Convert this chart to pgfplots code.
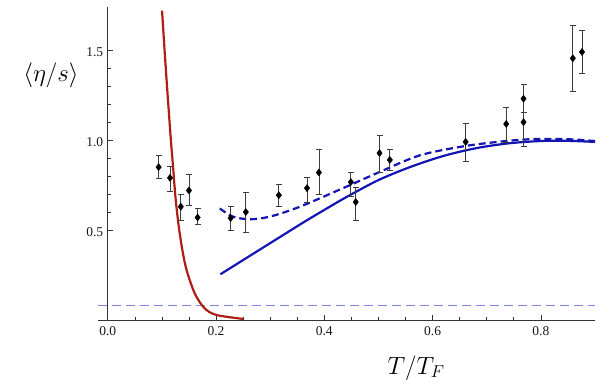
\documentclass[border=0pt]{standalone}
\usepackage{fontspec}
\setmainfont{Liberation Serif}
\usepackage{pgfplots}
\pgfplotsset{compat=1.18}
\usepackage{pgfplotstable}
\definecolor{mred}{RGB}{175,30,20}
\definecolor{mblue}{RGB}{20,20,180}
\definecolor{kss}{RGB}{130,130,225}
\definecolor{errc}{RGB}{60,60,60}
\pgfplotstableread{
x y ep em
0.094 0.850 0.067 0.060
0.115 0.790 0.066 0.073
0.135 0.630 0.070 0.074
0.150 0.720 0.090 0.080
0.166 0.570 0.050 0.040
0.227 0.567 0.063 0.067
0.255 0.600 0.110 0.110
0.316 0.694 0.061 0.064
0.368 0.733 0.062 0.077
0.390 0.820 0.130 0.120
0.449 0.767 0.053 0.077
0.458 0.656 0.084 0.100
0.502 0.928 0.100 0.108
0.521 0.890 0.060 0.060
0.661 0.990 0.104 0.110
0.736 1.090 0.090 0.100
0.768 1.230 0.080 0.075
0.768 1.100 0.055 0.133
0.859 1.455 0.185 0.185
0.876 1.490 0.120 0.120
}\datatab
\pgfplotstableread{
x y
0.1003 1.720
0.107 1.407
0.1157 1.037
0.1206 0.852
0.1256 0.667
0.133 0.480
0.144 0.296
0.1607 0.148
0.179 0.065
0.2007 0.028
0.25 0.006
}\redtab
\pgfplotstableread{
x y
0.208 0.254
0.26 0.352
0.31 0.446
0.36 0.540
0.40 0.612
0.44 0.682
0.50 0.778
0.56 0.852
0.62 0.912
0.68 0.955
0.74 0.982
0.80 0.995
0.85 0.996
0.90 0.990
}\solidtab
\pgfplotstableread{
x y
0.207 0.620
0.231 0.575
0.262 0.560
0.30 0.575
0.355 0.630
0.44 0.740
0.50 0.820
0.576 0.915
0.656 0.965
0.72 0.990
0.78 1.005
0.85 1.005
0.90 0.995
}\dashtab
\begin{document}
\begin{tikzpicture}
\path[use as bounding box] (-98pt,-64pt) rectangle (512pt,320pt);
\begin{axis}[
  scale only axis, width=497pt, height=313pt,
  axis lines=middle, axis line style={-, black!80, line width=0.6pt},
  xmin=-0.018, xmax=0.9, ymin=0, ymax=1.74,
  xtick={0,0.2,0.4,0.6,0.8}, minor x tick num=3,
  ytick={0.5,1.0,1.5}, minor y tick num=4,
  tick align=inside, tick style={black!80, line width=0.6pt},
  major tick length=5pt, minor tick length=3pt,
  hide obscured x ticks=false,
  /pgf/number format/assume math mode=true,
  /pgf/number format/.cd, fixed, fixed zerofill, precision=1, /pgfplots/.cd,
  ticklabel style={font=\fontsize{13.5}{15}\selectfont, text=black!90},
  xticklabel style={yshift=-3pt},
  yticklabel style={xshift=-1pt, yshift=-2pt},
  clip=false,
]
\addplot[kss, line width=1.1pt, dash pattern=on 9pt off 5pt] coordinates {(-0.018,0.08) (0.9,0.08)};
\addplot[mred, line width=2.2pt, smooth] table[x=x,y=y] {\redtab};
\addplot[mblue, line width=2.2pt, smooth] table[x=x,y=y] {\solidtab};
\addplot[mblue, line width=2.2pt, smooth, dash pattern=on 7pt off 4pt] table[x=x,y=y] {\dashtab};
\addplot[only marks, mark=diamond*, mark size=3.6pt, black,
  error bars/.cd, y dir=both, y explicit,
  error bar style={errc, line width=0.7pt},
  error mark options={errc, rotate=90, mark size=3pt, line width=0.7pt}]
  table[x=x, y=y, y error plus=ep, y error minus=em] {\datatab};
\node at (axis description cs:0.640,-0.153) {\fontsize{24}{28}\selectfont $T/T_F$};
\node at (axis description cs:-0.0946,0.783) {\fontsize{24}{28}\selectfont $\langle\eta/s\rangle$};
\end{axis}
\end{tikzpicture}
\end{document}
